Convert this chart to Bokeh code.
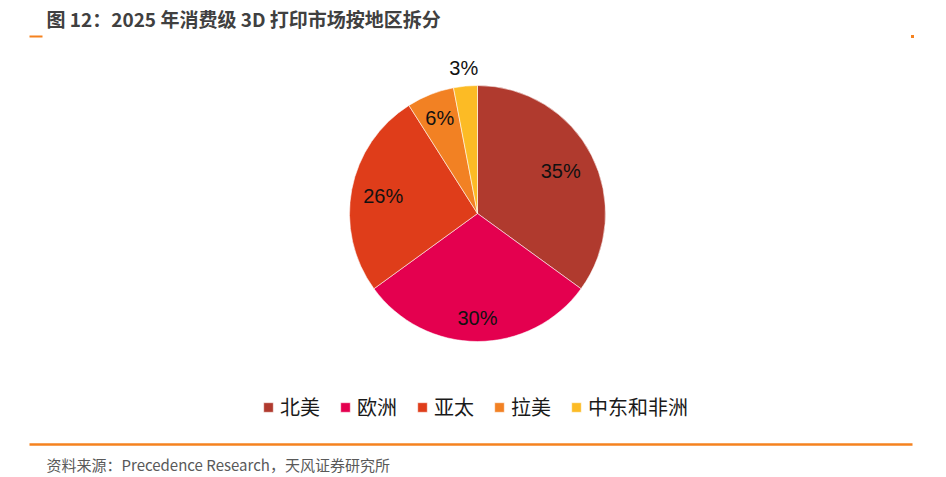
import math
from bokeh.plotting import figure
from bokeh.models import ColumnDataSource, Range1d, Legend, LegendItem
from bokeh.core.properties import value
from bokeh.embed import file_html
from bokeh.resources import INLINE

# ---- data ----
regions = ["北美", "欧洲", "亚太", "拉美", "中东和非洲"]
shares = [35, 30, 26, 6, 3]
colors = ["#B03A2E", "#E4004F", "#DF3D1A", "#F28123", "#FCBB25"]
title_text = "图 12：2025 年消费级 3D 打印市场按地区拆分"
source_text = "资料来源：Precedence Research，天风证券研究所"

# ---- layout (page pixels -> data units) ----
W, H = 946, 477
def X(sx):
    return sx
def Y(sy):
    return H - sy

CX, CY, R = X(477), Y(213), 128
label_r = [0.73, 0.82, 0.75, 0.80, 1.14]

total = float(sum(shares))
starts, ends, lx, ly, labels = [], [], [], [], []
cum = 0.0
for i, s in enumerate(shares):
    a0 = math.pi / 2 - 2 * math.pi * cum / total
    cum += s
    a1 = math.pi / 2 - 2 * math.pi * cum / total
    starts.append(a0)
    ends.append(a1)
    mid = (a0 + a1) / 2
    lx.append(CX + R * label_r[i] * math.cos(mid))
    ly.append(CY + R * label_r[i] * math.sin(mid))
    labels.append(f"{s}%")

src = ColumnDataSource(dict(region=regions, share=shares, color=colors,
                            start=starts, end=ends, lx=lx, ly=ly, label=labels))

p = figure(width=W, height=H, x_range=Range1d(0, W), y_range=Range1d(0, H),
           output_backend="svg", toolbar_location=None, min_border=0,
           background_fill_color="white", border_fill_color="white")
p.axis.visible = False
p.grid.visible = False
p.outline_line_color = None

wr = p.wedge(x=CX, y=CY, radius=R, start_angle="start", end_angle="end",
             direction="clock", fill_color="color", line_color="white",
             line_width=0.8, line_alpha=0.7, source=src)

p.text(x="lx", y="ly", text="label", source=src, text_align="center",
       text_baseline="middle", text_font=value("Liberation Sans"),
       text_font_size="20px", text_color="#111111")

# title
p.text(x=[X(46)], y=[Y(18)], text=[title_text], text_baseline="middle",
       text_font=value("Noto Sans CJK SC"), text_font_style="bold",
       text_font_size="19px", text_color="#404040")
# top orange marks
p.segment(x0=[X(29)], y0=[Y(36)], x1=[X(42)], y1=[Y(36)],
          line_color="#F5821F", line_width=2)
p.rect(x=[X(912)], y=[Y(36)], width=3, height=3, fill_color="#F5821F",
       line_color=None)
# footer line
p.segment(x0=[X(29)], y0=[Y(444)], x1=[X(912)], y1=[Y(444)],
          line_color="#F5821F", line_width=2.5)
p.text(x=[X(46)], y=[Y(464)], text=[source_text], text_baseline="middle",
       text_font=value("Noto Sans CJK SC"), text_font_size="15px",
       text_color="#595959")

items = [LegendItem(label=regions[i], renderers=[wr], index=i)
         for i in range(len(regions))]
legend = Legend(items=items, orientation="horizontal",
                location=(X(262), Y(421)), glyph_width=12, glyph_height=12,
                label_standoff=6, spacing=19, padding=0, margin=0,
                border_line_color=None, background_fill_alpha=0,
                label_text_font="Noto Sans CJK SC", label_text_font_size="20px",
                label_text_color="#1a1a1a", label_height=20)
p.add_layout(legend, "center")

open("out.html", "w").write(file_html(p, INLINE))
